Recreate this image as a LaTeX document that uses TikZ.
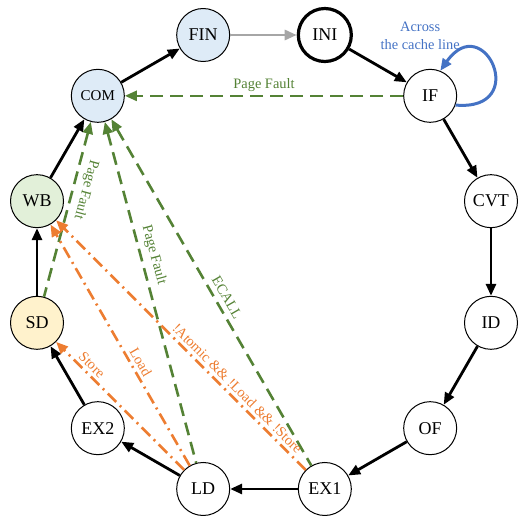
\documentclass[tikz,border=0pt]{standalone}
\usepackage{fontspec}
\setmainfont{Liberation Serif}
\usetikzlibrary{arrows.meta,calc}
\definecolor{faultgreen}{HTML}{548235}
\definecolor{lsuorange}{HTML}{ED7D31}
\definecolor{loopblue}{HTML}{4472C4}
\definecolor{comblue}{HTML}{DEEBF7}
\definecolor{wbgreen}{HTML}{E2F0D9}
\definecolor{sdyellow}{HTML}{FFF2CC}
\definecolor{inigray}{HTML}{A6A6A6}
\begin{document}
\begin{tikzpicture}[>={Triangle[length=6pt,width=5pt]},
  stage/.style={circle,draw,line width=0.5pt,minimum size=26.5pt,inner sep=0pt,
    font=\fontsize{9}{10}\selectfont},
  flow/.style={->,line width=1.4pt},
  fault/.style={->,line width=1.3pt,faultgreen,dash pattern=on 6.5pt off 3.5pt},
  lsu/.style={->,line width=1.3pt,lsuorange,dash pattern=on 6pt off 2.5pt on 1pt off 2.5pt},
  lbl/.style={font=\fontsize{7.2}{8.6}\selectfont,inner sep=1.5pt}]
  \useasboundingbox (0,0) rectangle (260pt,-259pt);
  \coordinate (C) at (132pt,-131pt);
  % pipeline stages on a ring
  \node[stage,fill=comblue] (FIN) at ($(C)+(105:117.5pt)$) {FIN};
  \node[stage,line width=1.6pt] (INI) at ($(C)+(75:117.5pt)$) {INI};
  \node[stage] (IF) at ($(C)+(45:117.5pt)$) {IF};
  \node[stage] (CVT) at ($(C)+(15:117.5pt)$) {CVT};
  \node[stage] (ID) at ($(C)+(-15:117.5pt)$) {ID};
  \node[stage] (OF) at ($(C)+(-45:117.5pt)$) {OF};
  \node[stage] (EX1) at ($(C)+(-75:117.5pt)$) {EX1};
  \node[stage] (LD) at ($(C)+(-105:117.5pt)$) {LD};
  \node[stage] (EX2) at ($(C)+(-135:117.5pt)$) {EX2};
  \node[stage,fill=sdyellow] (SD) at ($(C)+(-165:117.5pt)$) {SD};
  \node[stage,fill=wbgreen] (WB) at ($(C)+(165:117.5pt)$) {WB};
  \node[stage,fill=comblue,font=\fontsize{7.5}{9}\selectfont] (COM) at ($(C)+(135:117.5pt)$) {COM};
  % normal flow
  \draw[flow] (COM) -- (FIN);
  \draw[flow,inigray] (FIN) -- (INI);
  \draw[flow] (INI) -- (IF);
  \draw[flow] (IF) -- (CVT);
  \draw[flow] (CVT) -- (ID);
  \draw[flow] (ID) -- (OF);
  \draw[flow] (OF) -- (EX1);
  \draw[flow] (EX1) -- (LD);
  \draw[flow] (LD) -- (EX2);
  \draw[flow] (EX2) -- (SD);
  \draw[flow] (SD) -- (WB);
  \draw[flow] (WB) -- (COM);
  % fetch loop
  \draw[->,line width=1.5pt,loopblue] (IF.-20) .. controls +(-5:38pt) and +(55:38pt) .. (IF.68);
  \node[lbl,loopblue,align=center] (across) at ($(IF)+(-5pt,30pt)$) {Across\\the cache line};
  % exceptions
  \draw[fault] (IF) -- node[lbl,above] {Page Fault} (COM);
  \draw[fault,<-] (COM) -- node[lbl,pos=0.37,sloped,above,allow upside down,inner sep=2.5pt] {Page Fault} (SD);
  \draw[fault,<-] (COM) -- node[lbl,pos=0.4,sloped,above,allow upside down,inner sep=2.5pt] {Page Fault} (LD);
  \draw[fault,<-] (COM) -- node[lbl,pos=0.53,sloped,above,allow upside down,inner sep=2.5pt] {ECALL} (EX1);
  % memory paths
  \draw[lsu] (LD) -- node[lbl,pos=0.77,sloped,above] {Store} (SD);
  \draw[lsu] (LD) -- node[lbl,pos=0.41,sloped,above] {Load} (WB);
  \draw[lsu] (EX1) -- node[lbl,pos=0.3,sloped,above] {!Atomic \&\& !Load \&\& !Store} (WB);
\end{tikzpicture}
\end{document}
